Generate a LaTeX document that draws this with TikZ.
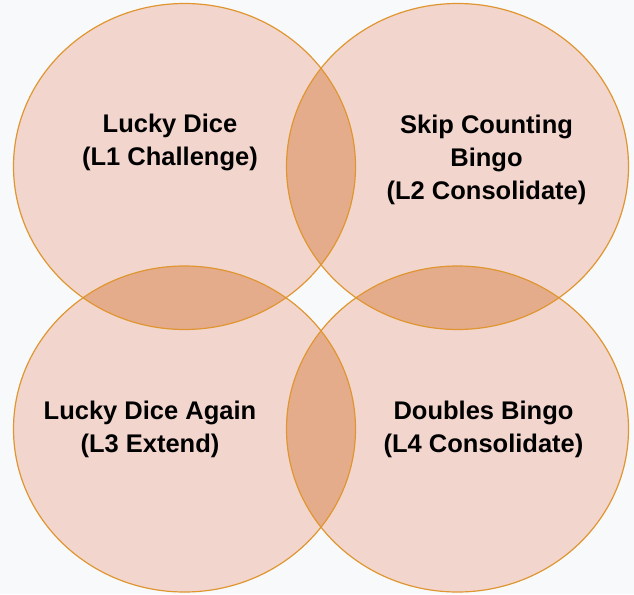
\documentclass[tikz,border=0pt]{standalone}
\usepackage{fontspec}
\setmainfont{Liberation Sans}
\usepackage{xcolor}
\usepackage{tikz}
\usetikzlibrary{calc}
\definecolor{bubblepink}{RGB}{242, 214, 206}
\definecolor{lensorange}{RGB}{229, 172, 140}
\definecolor{rimorange}{RGB}{224, 150, 48}
\definecolor{paper}{RGB}{248, 249, 251}
\tikzset{
  gametext/.style={align=center, inner sep=0pt, font=\fontsize{25.5}{33}\selectfont\bfseries},
  rim/.style={draw=rimorange, line width=1.2pt}
}
\newcommand{\bubble}{ellipse [x radius=171pt, y radius=163pt]}

\begin{document}
\begin{tikzpicture}[
    x=1pt, y=-1pt,
    bubblefill/.style={fill=bubblepink},
    lensfill/.style={fill=lensorange}
  ]

  \useasboundingbox[fill=paper] (0,0) rectangle (634,594);

  \coordinate (tl) at (184.5,166.5);
  \coordinate (tr) at (457.5,166.5);
  \coordinate (bl) at (184.5,429);
  \coordinate (br) at (457.5,429);

  \foreach \c in {tl, tr, bl, br}
    \fill[bubblefill] (\c) \bubble;

  \foreach \a/\b in {tl/tr, tl/bl, tr/br, bl/br} {
    \begin{scope}
      \clip (\a) \bubble;
      \fill[lensfill] (\b) \bubble;
    \end{scope}
  }

  \foreach \c in {tl, tr, bl, br}
    \draw[rim] (\c) \bubble;

  \node[gametext] (dice) at ($(tl)+(-14.5,-24.5)$) {Lucky Dice\\(L1 Challenge)};
  \node[gametext] (skip) at ($(tr)+(29,-7)$) {Skip Counting\\Bingo\\(L2 Consolidate)};
  \node[gametext] (again) at ($(bl)+(-34.5,0)$) {Lucky Dice Again\\(L3 Extend)};
  \node[gametext] (doubles) at ($(br)+(26,0)$) {Doubles Bingo\\(L4 Consolidate)};

\end{tikzpicture}
\end{document}
